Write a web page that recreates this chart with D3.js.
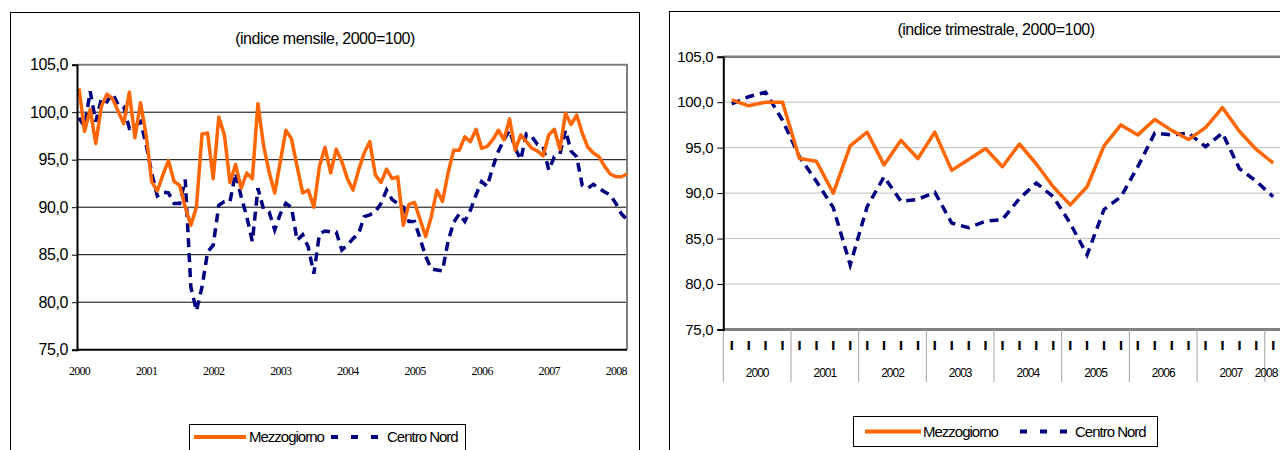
<!DOCTYPE html>
<html><head><meta charset="utf-8">
<script src="https://cdn.jsdelivr.net/npm/d3@7"></script>
<style>
body{margin:0;background:#fff;}
svg{display:block;font-family:"Liberation Sans",Arial,sans-serif;}
</style>
</head><body>
<svg id="c" width="1280" height="450"></svg>
<script>
// ---------- DATA ----------
const years = ["2000","2001","2002","2003","2004","2005","2006","2007","2008"];
const seriesNames = ["Mezzogiorno","Centro Nord"];
const titles = ["(indice mensile, 2000=100)","(indice trimestrale, 2000=100)"];
const yTicks = [75,80,85,90,95,100,105];
const quarterLabel = "I";

// monthly, Jan 2000 - Mar 2008
const mezzMonthly = [102.5,98.0,100.3,96.7,100.6,101.9,101.4,100.1,98.8,102.1,97.3,101.0,
  97.6,92.7,91.7,93.4,94.9,92.7,92.3,90.0,88.1,90.0,97.7,97.8,
  93.0,99.5,97.6,92.6,94.5,92.0,93.6,93.0,100.9,96.5,93.7,91.5,
  94.8,98.1,97.2,94.3,91.5,91.8,90.0,94.3,96.3,93.6,96.1,94.8,
  93.0,91.8,93.9,95.7,96.9,93.4,92.6,94.0,93.0,93.2,88.1,90.3,
  90.5,88.7,86.9,89.0,91.8,90.6,93.6,96.0,96.0,97.4,96.9,98.2,
  96.2,96.4,97.1,98.1,97.1,99.3,96.0,97.6,96.9,96.2,95.9,95.4,
  97.6,98.2,96.1,99.9,98.7,99.7,97.8,96.3,95.7,95.3,94.3,93.5,
  93.2,93.2,93.5];
const centroMonthly = [99.4,98.5,102.2,99.0,101.4,101.1,102.0,100.8,100.6,98.3,98.5,99.0,
  96.6,93.6,91.2,91.6,91.5,90.4,90.4,92.9,81.6,79.1,81.6,85.3,
  86.0,90.2,90.6,90.6,93.6,91.1,89.0,86.4,92.0,89.8,89.5,87.6,
  89.3,90.4,90.0,86.5,87.1,85.8,83.0,87.2,87.5,87.4,87.4,85.5,
  86.0,86.7,87.2,89.0,89.2,89.5,90.4,91.8,90.8,90.4,90.0,88.5,
  88.5,86.7,84.8,83.5,83.4,83.3,86.4,88.4,89.3,88.5,89.7,91.3,
  92.7,92.2,94.2,95.9,97.1,98.1,96.2,95.0,97.7,97.4,96.6,96.4,
  93.9,95.3,95.6,98.1,95.9,95.3,92.3,92.0,92.4,92.0,91.6,91.3,
  90.4,89.3,88.7];

// quarterly, 2000 Q1 - 2008 Q1
const mezzQuarterly = [100.25,99.6,100.0,100.0,93.8,93.5,90.0,95.2,96.7,93.1,95.8,93.8,
  96.7,92.5,93.7,94.9,92.9,95.4,93.2,90.7,88.7,90.7,95.2,97.5,
  96.4,98.1,96.9,95.9,97.2,99.4,96.8,94.8,93.3];
const centroQuarterly = [99.8,100.6,101.1,98.0,94.0,91.3,88.4,82.1,88.5,91.8,89.1,89.3,
  90.1,86.7,86.2,86.9,87.1,89.4,91.1,89.6,86.7,83.2,88.2,89.6,
  92.9,96.6,96.4,96.6,95.1,96.6,92.7,91.3,89.6];

// ---------- STYLE ----------
const ORANGE = "#FF6600", NAVY = "#000080";
const svg = d3.select("#c");
const fmt = d3.formatLocale({decimal:",",thousands:".",grouping:[3],currency:["",""]}).format(".1f");

function drawLines(g, x, y, a, b, dash){
  const line = d3.line().x((d,i)=>x(i)).y(d=>y(d));
  g.append("path").datum(b).attr("d",line).attr("fill","none")
    .attr("stroke",NAVY).attr("stroke-width",3.5).attr("stroke-dasharray",dash);
  g.append("path").datum(a).attr("d",line).attr("fill","none")
    .attr("stroke",ORANGE).attr("stroke-width",3.5).attr("stroke-linejoin","round");
}
function legend(g, bx, by, bw, bh, cy, pos){
  g.append("rect").attr("x",bx).attr("y",by).attr("width",bw).attr("height",bh)
    .attr("fill","#fff").attr("stroke","#000").attr("stroke-width",1);
  g.append("line").attr("x1",pos[0]).attr("x2",pos[1]).attr("y1",cy).attr("y2",cy)
    .attr("stroke",ORANGE).attr("stroke-width",4);
  g.append("text").attr("x",pos[2]).attr("y",cy+5).text(seriesNames[0])
    .attr("font-size",15).attr("letter-spacing","-1px");
  g.append("line").attr("x1",pos[3]).attr("x2",pos[4]).attr("y1",cy).attr("y2",cy)
    .attr("stroke",NAVY).attr("stroke-width",4).attr("stroke-dasharray","7,13");
  g.append("text").attr("x",pos[5]).attr("y",cy+5).text(seriesNames[1])
    .attr("font-size",15).attr("letter-spacing","-1px");
}

// ================= LEFT CHART =================
{
  const g = svg.append("g");
  g.append("rect").attr("x",10.5).attr("y",12.5).attr("width",629).attr("height",470)
    .attr("fill","#fff").attr("stroke","#000");
  g.append("text").attr("x",325).attr("y",44).attr("text-anchor","middle")
    .attr("font-size",16).attr("letter-spacing","-0.5px").text(titles[0]);

  const pl = 77, pr = 627;
  const x = d3.scaleLinear().domain([0,mezzMonthly.length-1]).range([79,627]);
  const y = d3.scaleLinear().domain([75,105]).range([349.7,64.7]);

  g.selectAll(".gl").data(yTicks.filter(v=>v>75&&v<105)).join("line")
    .attr("x1",pl).attr("x2",pr).attr("y1",d=>y(d)).attr("y2",d=>y(d))
    .attr("stroke","#000").attr("stroke-width",1);
  g.append("line").attr("x1",pl).attr("x2",pr+1).attr("y1",y(105)).attr("y2",y(105))
    .attr("stroke","#808080").attr("stroke-width",2);
  g.append("line").attr("x1",pr).attr("x2",pr).attr("y1",y(105)).attr("y2",y(75))
    .attr("stroke","#808080").attr("stroke-width",2);

  drawLines(g, x, y, mezzMonthly, centroMonthly, "9,6");

  const ya = g.append("g").attr("transform",`translate(${pl},0)`)
    .call(d3.axisLeft(y).tickValues(yTicks).tickFormat(fmt).tickSize(5).tickPadding(4));
  ya.select(".domain").attr("stroke","#000").attr("stroke-width",2);
  ya.selectAll(".tick line").attr("stroke","#000");
  ya.selectAll("text").attr("font-size",16).attr("letter-spacing","-0.4px")
    .attr("font-family",'"Liberation Sans",Arial,sans-serif').attr("fill","#000");
  g.append("line").attr("x1",pl).attr("x2",pr).attr("y1",y(75)).attr("y2",y(75))
    .attr("stroke","#000").attr("stroke-width",2);
  const xa = g.append("g").attr("transform",`translate(0,${y(75)})`)
    .call(d3.axisBottom(x).tickValues(years.map((d,i)=>i*12)).tickFormat(i=>years[i/12]).tickSize(0).tickPadding(17));
  xa.select(".domain").remove();
  xa.selectAll("text").attr("font-family",'"Liberation Serif","Times New Roman",serif')
    .attr("font-size",12).attr("letter-spacing","-0.7px").attr("fill","#000");

  legend(g, 189.5, 424.5, 276, 40, 437, [194,246,249,331,381,387]);
}

// ================= RIGHT CHART =================
{
  const g = svg.append("g");
  g.append("rect").attr("x",669.5).attr("y",11.5).attr("width",700).attr("height",470)
    .attr("fill","#fff").attr("stroke","#000");
  g.append("text").attr("x",996).attr("y",35).attr("text-anchor","middle")
    .attr("font-size",16).attr("letter-spacing","-0.5px").text(titles[1]);

  const pl = 723.3, bw = 16.92;
  const n = mezzQuarterly.length;
  const xb = d3.scaleBand().domain(d3.range(n)).range([pl, pl+n*bw]);
  const x = i => xb(i) + xb.bandwidth()/2;
  const y = d3.scaleLinear().domain([75,105]).range([329.5,56.7]);
  const pr = pl + n*bw;

  g.selectAll(".gl").data(yTicks.filter(v=>v>75&&v<105)).join("line")
    .attr("x1",pl).attr("x2",pr).attr("y1",d=>y(d)).attr("y2",d=>y(d))
    .attr("stroke","#c0c0c0").attr("stroke-width",1);
  g.append("line").attr("x1",pl).attr("x2",pr).attr("y1",y(105)).attr("y2",y(105))
    .attr("stroke","#808080").attr("stroke-width",2.5);

  drawLines(g, x, y, mezzQuarterly, centroQuarterly, "9,6");

  g.append("line").attr("x1",pl).attr("x2",pr).attr("y1",y(75)).attr("y2",y(75))
    .attr("stroke","#808080").attr("stroke-width",3);
  const yearStarts = years.map((d,k)=>k*4);
  g.selectAll(".sep").data(yearStarts).join("line")
    .attr("x1",d=>xb(d)).attr("x2",d=>xb(d)).attr("y1",y(75)).attr("y2",382)
    .attr("stroke","#a0a0a0").attr("stroke-width",1);
  g.selectAll(".ql").data(d3.range(n)).join("text")
    .attr("x",d=>x(d)).attr("y",350).attr("text-anchor","middle")
    .attr("font-size",12).attr("font-weight","bold").attr("fill","#000")
    .attr("font-family",'"DejaVu Sans",sans-serif').text(quarterLabel);
  g.selectAll(".yl").data(years).join("text")
    .attr("x",(d,k)=>{const s=k*4, e=Math.min(n,s+4); return Math.min(xb(s)+(e-s)*bw/2, 1266);})
    .attr("y",377).attr("text-anchor","middle").attr("font-size",12)
    .attr("letter-spacing","-1px").text(d=>d);

  const ya = g.append("g").attr("transform",`translate(${pl},0)`)
    .call(d3.axisLeft(y).tickValues(yTicks).tickFormat(fmt).tickSize(6).tickPadding(4));
  ya.select(".domain").attr("stroke","#000").attr("stroke-width",2);
  ya.selectAll(".tick line").attr("stroke","#000");
  ya.selectAll("text").attr("font-size",15).attr("letter-spacing","-0.3px")
    .attr("font-family",'"Liberation Sans",Arial,sans-serif').attr("fill","#000");

  legend(g, 853.5, 416.5, 304, 30, 431.5, [865,921,923,1020,1069,1075]);
}
</script>
</body></html>
